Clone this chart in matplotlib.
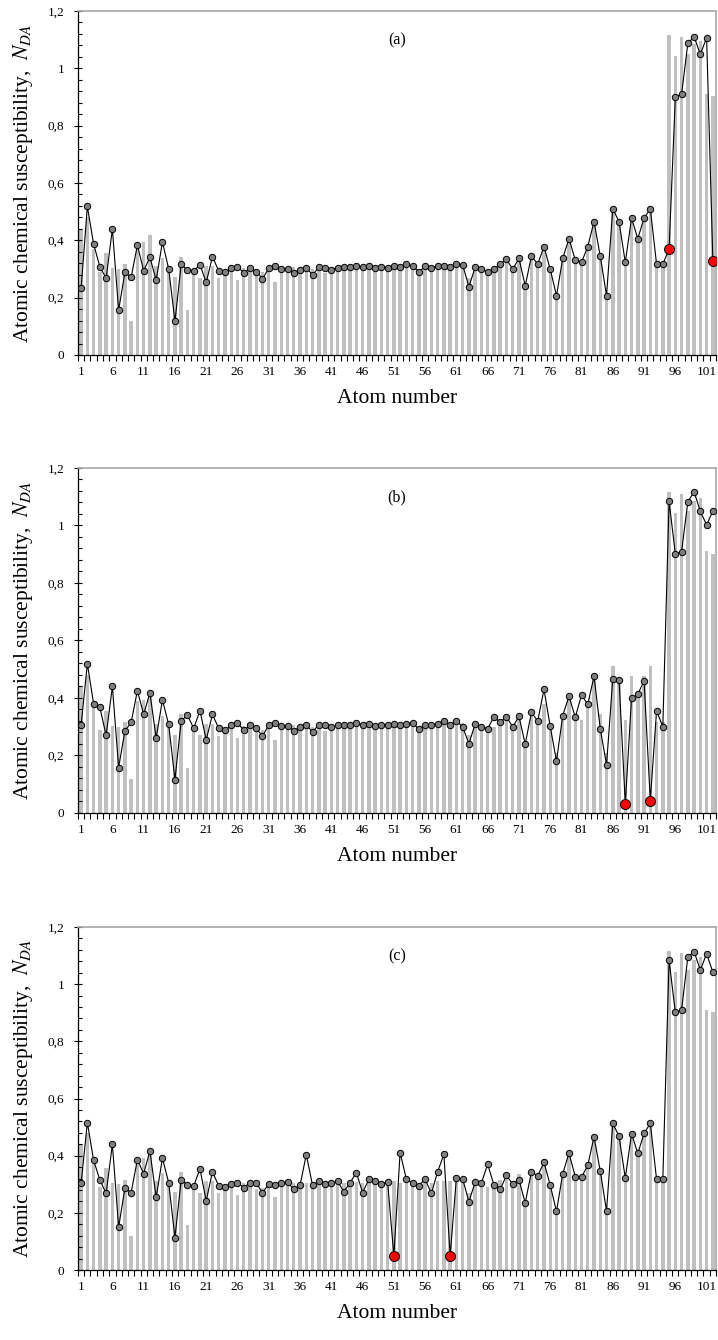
import numpy as np
import matplotlib
matplotlib.use("Agg")
import matplotlib.pyplot as plt
from matplotlib.ticker import FixedLocator, FuncFormatter

plt.rcParams['font.family'] = ['Liberation Serif', 'DejaVu Serif']
plt.rcParams['mathtext.fontset'] = 'stix'

atoms = np.arange(1, 103)

# reference susceptibility (gray bars), same in all panels
bar_values = [
    0.440, 0.480, 0.370, 0.290, 0.356, 0.304, 0.300, 0.316, 0.118, 0.388,
    0.393, 0.418, 0.310, 0.339, 0.300, 0.272, 0.343, 0.158, 0.300, 0.270,
    0.310, 0.310, 0.269, 0.285, 0.300, 0.262, 0.303, 0.300, 0.285, 0.288,
    0.300, 0.254, 0.300, 0.305, 0.306, 0.300, 0.305, 0.300, 0.305, 0.286,
    0.300, 0.305, 0.306, 0.306, 0.309, 0.306, 0.309, 0.304, 0.307, 0.305,
    0.310, 0.305, 0.312, 0.310, 0.300, 0.308, 0.305, 0.310, 0.312, 0.313,
    0.315, 0.312, 0.270, 0.306, 0.300, 0.291, 0.300, 0.315, 0.334, 0.300,
    0.336, 0.241, 0.345, 0.317, 0.378, 0.300, 0.207, 0.337, 0.406, 0.331,
    0.325, 0.378, 0.465, 0.345, 0.208, 0.511, 0.465, 0.324, 0.477, 0.406,
    0.477, 0.511, 0.318, 0.318, 1.116, 1.042, 1.108, 1.049, 1.084, 1.094,
    0.911, 0.902,
]

line_a = [
    0.233, 0.518, 0.387, 0.308, 0.267, 0.439, 0.156, 0.288, 0.271, 0.383,
    0.294, 0.341, 0.261, 0.394, 0.301, 0.117, 0.316, 0.296, 0.293, 0.315,
    0.253, 0.343, 0.293, 0.288, 0.302, 0.308, 0.287, 0.302, 0.291, 0.266,
    0.302, 0.310, 0.301, 0.301, 0.285, 0.298, 0.305, 0.279, 0.306, 0.305,
    0.298, 0.305, 0.306, 0.306, 0.309, 0.306, 0.309, 0.303, 0.308, 0.305,
    0.309, 0.306, 0.316, 0.310, 0.290, 0.309, 0.305, 0.310, 0.312, 0.306,
    0.317, 0.314, 0.238, 0.306, 0.299, 0.291, 0.299, 0.316, 0.334, 0.299,
    0.337, 0.241, 0.345, 0.317, 0.378, 0.299, 0.207, 0.337, 0.406, 0.331,
    0.323, 0.378, 0.465, 0.345, 0.207, 0.510, 0.465, 0.323, 0.477, 0.406,
    0.477, 0.510, 0.317, 0.317, 0.369, 0.899, 0.910, 1.087, 1.110, 1.049,
    1.107, 0.329,
]

line_b = [
    0.306, 0.519, 0.380, 0.367, 0.270, 0.440, 0.158, 0.285, 0.315, 0.425,
    0.343, 0.418, 0.260, 0.393, 0.308, 0.116, 0.320, 0.341, 0.294, 0.356,
    0.254, 0.343, 0.294, 0.287, 0.305, 0.314, 0.287, 0.305, 0.294, 0.268,
    0.305, 0.314, 0.301, 0.304, 0.286, 0.298, 0.306, 0.282, 0.307, 0.307,
    0.298, 0.305, 0.306, 0.307, 0.313, 0.306, 0.311, 0.304, 0.307, 0.305,
    0.311, 0.306, 0.310, 0.314, 0.291, 0.307, 0.306, 0.311, 0.319, 0.306,
    0.321, 0.299, 0.241, 0.310, 0.299, 0.293, 0.335, 0.315, 0.335, 0.299,
    0.336, 0.240, 0.350, 0.319, 0.430, 0.301, 0.180, 0.339, 0.406, 0.333,
    0.410, 0.378, 0.475, 0.293, 0.167, 0.467, 0.463, 0.032, 0.400, 0.413,
    0.460, 0.043, 0.356, 0.300, 1.084, 0.901, 0.909, 1.082, 1.117, 1.049,
    1.002, 1.050,
]

line_c = [
    0.303, 0.516, 0.384, 0.315, 0.268, 0.440, 0.150, 0.286, 0.271, 0.386,
    0.337, 0.416, 0.254, 0.391, 0.306, 0.113, 0.316, 0.297, 0.294, 0.354,
    0.242, 0.344, 0.294, 0.290, 0.301, 0.306, 0.288, 0.306, 0.305, 0.270,
    0.302, 0.297, 0.305, 0.308, 0.282, 0.296, 0.404, 0.296, 0.310, 0.302,
    0.303, 0.310, 0.274, 0.305, 0.341, 0.271, 0.317, 0.311, 0.301, 0.309,
    0.050, 0.411, 0.318, 0.304, 0.295, 0.318, 0.268, 0.344, 0.405, 0.050,
    0.323, 0.319, 0.239, 0.308, 0.305, 0.370, 0.298, 0.282, 0.331, 0.301,
    0.316, 0.235, 0.344, 0.329, 0.377, 0.297, 0.205, 0.337, 0.409, 0.327,
    0.325, 0.366, 0.466, 0.346, 0.207, 0.513, 0.468, 0.322, 0.477, 0.408,
    0.478, 0.513, 0.318, 0.318, 1.084, 0.901, 0.910, 1.095, 1.114, 1.049,
    1.107, 1.042,
]

panels = [
    ("(a)", line_a, [95, 102]),
    ("(b)", line_b, [88, 92]),
    ("(c)", line_c, [51, 60]),
]

# axes boxes in figure fractions [left, bottom, width, height]
boxes = [
    [0.1086, 0.7351, 0.8886, 0.2567],
    [0.1086, 0.3933, 0.8886, 0.2575],
    [0.1086, 0.0522, 0.8886, 0.2560],
]

fig = plt.figure(figsize=(7.18, 13.4), dpi=100)

for (tag, vals, red_atoms), box in zip(panels, boxes):
    ax = fig.add_axes(box)
    ax.bar(atoms, bar_values, width=0.55, color="#c0c0c0", zorder=1)
    ax.plot(atoms, vals, color="black", lw=0.8, marker="o", ms=4.6,
            mfc="#7f7f7f", mec="black", mew=0.7, zorder=3)
    red_idx = [a - 1 for a in red_atoms]
    ax.plot([atoms[i] for i in red_idx], [vals[i] for i in red_idx],
            ls="none", marker="o", ms=7.2, mfc="#ff0000", mec="black",
            mew=0.7, zorder=4)

    ax.set_xlim(0.5, 102.5)
    ax.set_ylim(0, 1.2)

    # x axis: labels at category centres, ticks on category borders
    ax.set_xticks(np.arange(1, 103, 5))
    ax.set_xticklabels([str(a) for a in range(1, 103, 5)])
    ax.xaxis.set_minor_locator(FixedLocator(np.arange(0.5, 103, 1)))
    ax.tick_params(axis="x", which="major", length=0, pad=8, labelsize=9.5)
    ax.tick_params(axis="x", which="minor", length=4, width=0.8,
                   direction="out")

    ax.set_yticks(np.arange(0, 1.21, 0.2))
    ax.yaxis.set_major_formatter(
        FuncFormatter(lambda v, p: ("%g" % round(v, 1)).replace(".", ",")))
    ax.yaxis.set_minor_locator(FixedLocator(np.arange(0, 1.21, 0.04)))
    ax.tick_params(axis="y", which="major", length=6, width=0.8,
                   direction="inout", labelsize=9.5, pad=7)
    ax.tick_params(axis="y", which="minor", length=3, width=0.8,
                   direction="in")

    for side in ("left", "bottom"):
        ax.spines[side].set_color("black")
        ax.spines[side].set_linewidth(0.9)
    for side in ("top", "right"):
        ax.spines[side].set_color("#a8a8a8")
        ax.spines[side].set_linewidth(1.2)

    ax.text(0.5, 0.915, tag, transform=ax.transAxes, ha="center",
            va="center", fontsize=11.5)
    ax.set_xlabel("Atom number", fontsize=15.5, labelpad=8)
    ax.set_ylabel("Atomic chemical susceptibility,  $N_{DA}$", fontsize=15.5,
                  labelpad=9)

fig.savefig("out.png", dpi=100)
